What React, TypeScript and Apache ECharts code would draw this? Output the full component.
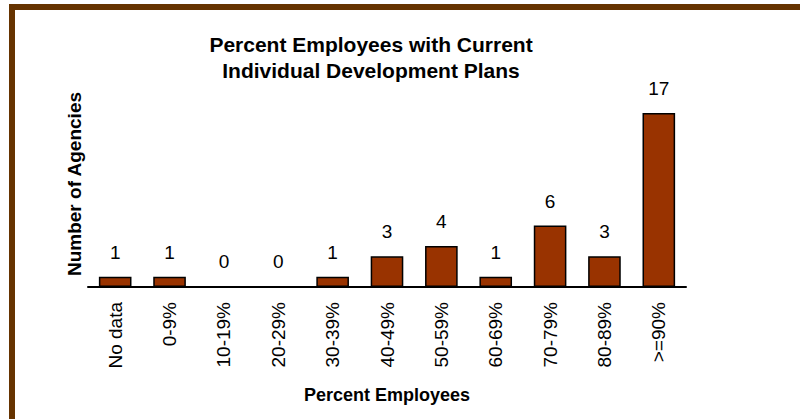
import React, { useEffect, useRef } from "react";
import * as echarts from "echarts";

const categories = ["No data", "0-9%", "10-19%", "20-29%", "30-39%", "40-49%", "50-59%", "60-69%", "70-79%", "80-89%", ">=90%"];
const agencyCounts = [1, 1, 0, 0, 1, 3, 4, 1, 6, 3, 17];
const titleLines = ["Percent Employees with Current", "Individual Development Plans"];
const xAxisTitle = "Percent Employees";
const yAxisTitle = "Number of Agencies";

const FONT = "Liberation Sans";

export default function App() {
  const ref = useRef<HTMLDivElement>(null);
  useEffect(() => {
    if (!ref.current) return;
    const chart = echarts.init(ref.current, undefined, { renderer: "svg" });
    chart.setOption({
      animation: false,
      backgroundColor: "#ffffff",
      textStyle: { fontFamily: FONT },
      title: {
        text: titleLines.join("\n"),
        left: 366,
        top: 26,
        textAlign: "center",
        textStyle: { fontFamily: FONT, fontSize: 21, fontWeight: "bold", color: "#000", lineHeight: 26 },
      },
      graphic: [
        { type: "rect", shape: { x: 9, y: 4, width: 6, height: 415 }, style: { fill: "#663300" } },
        { type: "rect", shape: { x: 9, y: 4, width: 791, height: 6 }, style: { fill: "#663300" } },
        {
          type: "text",
          x: 74,
          y: 184,
          rotation: Math.PI / 2,
          style: {
            text: yAxisTitle,
            fontFamily: FONT,
            fontSize: 19,
            fontWeight: "bold",
            fill: "#000",
            align: "center",
            verticalAlign: "middle",
          },
        },
      ],
      grid: { left: 88, right: 114, top: 113, bottom: 132 },
      xAxis: {
        type: "category",
        data: categories,
        name: xAxisTitle,
        nameLocation: "middle",
        nameGap: 99,
        nameTextStyle: { fontFamily: FONT, fontSize: 18, fontWeight: "bold", color: "#000" },
        axisLine: { lineStyle: { color: "#000", width: 2 } },
        axisTick: { length: 7, lineStyle: { color: "#000", width: 1.5 } },
        axisLabel: { rotate: 90, margin: 15, fontFamily: FONT, fontSize: 19, color: "#000", interval: 0 },
      },
      yAxis: {
        type: "value",
        min: 0,
        max: 17,
        show: false,
        splitLine: { show: false },
      },
      series: [
        {
          type: "bar",
          data: agencyCounts,
          barWidth: "60%",
          itemStyle: { color: "#993300", borderColor: "#000", borderWidth: 1.5 },
          label: {
            show: true,
            position: "top",
            distance: 15,
            fontFamily: FONT,
            fontSize: 19,
            color: "#000",
          },
        },
      ],
    });
    return () => chart.dispose();
  }, []);
  return <div ref={ref} style={{ position: "fixed", left: 0, top: 0, width: 800, height: 419 }} />;
}
